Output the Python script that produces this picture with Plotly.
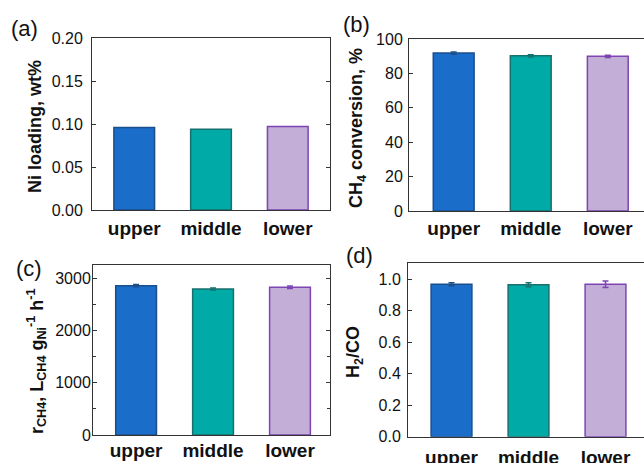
import plotly.graph_objects as go

categories = ["upper", "middle", "lower"]
ni_loading = [0.096, 0.094, 0.097]
ch4_conv = [91.8, 90.2, 89.9]
ch4_conv_err = [0.6, 0.6, 0.6]
rate = [2855, 2790, 2825]
rate_err = [20, 20, 25]
h2co = [0.968, 0.965, 0.968]
h2co_err = [0.010, 0.012, 0.020]

fills = ["#1a6dc8", "#00aaa6", "#c2aed6"]
edges = ["#1b4f8c", "#17706d", "#7c45b2"]

W, H = 644, 463
def dx(a, b):
    return [a / W, b / W]
def dy(top, bot):
    return [(H - bot) / H, (H - top) / H]

fig = go.Figure()

panels = [
    ("x", "y", ni_loading, None),
    ("x2", "y2", ch4_conv, ch4_conv_err),
    ("x3", "y3", rate, rate_err),
    ("x4", "y4", h2co, h2co_err),
]
for xa, ya, vals, errs in panels:
    for i, c in enumerate(categories):
        ey = None
        if errs is not None:
            ey = dict(type="data", array=[errs[i]], color=edges[i], thickness=1.5, width=3)
        fig.add_trace(go.Bar(
            x=[c], y=[vals[i]], xaxis=xa, yaxis=ya, width=0.53,
            marker=dict(color=fills[i], line=dict(color=edges[i], width=1.5)),
            error_y=ey, showlegend=False,
        ))

tickfont = dict(family="Liberation Sans, Arial, sans-serif", size=16, color="#111")
xfont = dict(family="Liberation Sans, Arial, sans-serif", size=19, color="#111")
axcol = "#333"

def xax(domain, rng, anchor, standoff):
    return dict(domain=domain, range=rng, type="category", anchor=anchor, automargin=False,
                showline=True, linecolor=axcol, linewidth=1, mirror=True,
                ticks="", showgrid=False, zeroline=False,
                tickfont=xfont, ticklabelstandoff=standoff,
                tickprefix="<b>", ticksuffix="</b>")

def yax(domain, rng, dtick, fmt, anchor, mirror, standoff, minor=None):
    d = dict(domain=domain, range=rng, dtick=dtick, tick0=0, tickformat=fmt, anchor=anchor,
             automargin=False,
             showline=True, linecolor=axcol, linewidth=1, mirror=mirror,
             ticks="inside", ticklen=4, tickcolor=axcol, showgrid=False, zeroline=False,
             tickfont=tickfont, ticklabelstandoff=standoff)
    if minor:
        d["minor"] = dict(dtick=minor, ticks="inside", ticklen=3, tickcolor=axcol)
    return d

fig.update_layout(
    width=W, height=H, margin=dict(l=0, r=0, t=0, b=0),
    paper_bgcolor="white", plot_bgcolor="white", barmode="overlay",
    xaxis=xax(dx(92, 330), [-0.55, 2.55], "y", 1),
    yaxis=yax(dy(38, 210), [0, 0.2], 0.05, ".2f", "x", "ticks", 5),
    xaxis2=xax(dx(409, 644), [-0.58, 2.47], "y2", 0),
    yaxis2=yax(dy(39, 211), [0, 100], 20, "d", "x2", False, 2),
    xaxis3=xax(dx(93, 330), [-0.56, 2.52], "y3", -2),
    yaxis3=yax(dy(265, 435), [0, 3250], 1000, "d", "x3", "ticks", -2, minor=500),
    xaxis4=xax(dx(408, 644), [-0.565, 2.5], "y4", 3),
    yaxis4=yax(dy(262.7, 436.7), [0, 1.105], 0.2, ".1f", "x4", False, 3),
)

tfont = dict(family="Liberation Sans, Arial, sans-serif", size=18, color="#111")
ytitles = [
    ("<b>Ni loading, wt%</b>", 35, 127),
    ("<b>CH<sub>4</sub> conversion, %</b>", 358, 128),
    ("<b>r<sub>CH4</sub>, L<sub>CH4</sub> g<sub>Ni</sub><sup>-1</sup> h<sup>-1</sup></b>", 37, 362),
    ("<b>H<sub>2</sub>/CO</b>", 354, 352),
]
for txt, x, y in ytitles:
    fig.add_annotation(text=txt, x=x / W, y=(H - y) / H, xref="paper", yref="paper",
                       textangle=-90, showarrow=False, font=tfont,
                       xanchor="center", yanchor="middle")

pfont = dict(family="Liberation Sans, Arial, sans-serif", size=22, color="#111")
plabels = [("(a)", 25, 28), ("(b)", 356, 25), ("(c)", 29, 268), ("(d)", 360, 255)]
for txt, x, y in plabels:
    fig.add_annotation(text=txt, x=x / W, y=(H - y) / H, xref="paper", yref="paper",
                       showarrow=False, font=pfont, xanchor="center", yanchor="middle")

fig.write_html("out.html", config={"displayModeBar": False},
               post_script="document.body.style.margin='0';")
